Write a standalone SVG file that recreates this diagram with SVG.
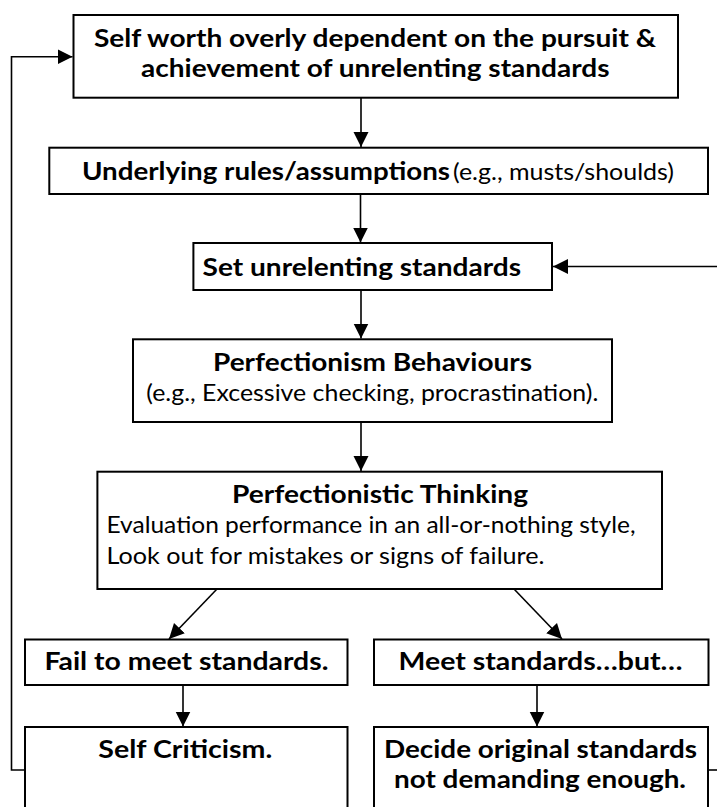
<svg xmlns="http://www.w3.org/2000/svg" width="717" height="807" viewBox="0 0 717 807">
<defs>
<style>
.box{fill:#fff;stroke:#000;stroke-width:2}
.t{font-family:"Lato","Open Sans","DejaVu Sans",sans-serif;font-size:24px;fill:#000}
.b{font-weight:bold}
.c{fill:none;stroke:#000;stroke-width:1.6}
</style>
<marker id="ah" markerUnits="userSpaceOnUse" markerWidth="16" markerHeight="16" viewBox="0 0 16 16" refX="15" refY="8" orient="auto">
<path d="M0,0.5 L15,8 L0,15.5 Z" fill="#000"/>
</marker>
</defs>
<rect width="717" height="807" fill="#fff"/>
<g id="connectors">
<line class="c" x1="361" y1="97.7" x2="361" y2="147" marker-end="url(#ah)"/>
<line class="c" x1="360.5" y1="194" x2="360.5" y2="242.5" marker-end="url(#ah)"/>
<line class="c" x1="361" y1="290" x2="361" y2="338.5" marker-end="url(#ah)"/>
<line class="c" x1="361" y1="422" x2="361" y2="471" marker-end="url(#ah)"/>
<line class="c" x1="217" y1="589" x2="169" y2="639" marker-end="url(#ah)"/>
<line class="c" x1="514" y1="589" x2="562" y2="639" marker-end="url(#ah)"/>
<line class="c" x1="183" y1="685" x2="183" y2="726.5" marker-end="url(#ah)"/>
<line class="c" x1="537" y1="685" x2="537" y2="726.5" marker-end="url(#ah)"/>
<line class="c" x1="717" y1="266.5" x2="553" y2="266.5" marker-end="url(#ah)"/>
<polyline class="c" points="25,770 11.5,770 11.5,56.7 72.5,56.7" marker-end="url(#ah)"/>
<line class="c" x1="708" y1="770" x2="717" y2="770"/>
</g>
<g id="n1">
<rect class="box" x="73.5" y="15" width="604.5" height="82.7"/>
<text class="t b" x="94" y="47" textLength="562" lengthAdjust="spacingAndGlyphs">Self worth overly dependent on the pursuit &amp;</text>
<text class="t b" x="141" y="77" textLength="468.5" lengthAdjust="spacingAndGlyphs">achievement of unrelenting standards</text>
</g>
<g id="n2">
<rect class="box" x="49.3" y="147.7" width="658.7" height="46.3"/>
<text class="t b" x="82" y="179.5" textLength="368" lengthAdjust="spacingAndGlyphs">Underlying rules/assumptions</text>
<text class="t" x="453" y="179.5" textLength="221" lengthAdjust="spacingAndGlyphs">(e.g., musts/shoulds)</text>
</g>
<g id="n3">
<rect class="box" x="193.4" y="243" width="358.6" height="47"/>
<text class="t b" x="202.6" y="275.5" textLength="318.5" lengthAdjust="spacingAndGlyphs">Set unrelenting standards</text>
</g>
<g id="n4">
<rect class="box" x="133" y="339.3" width="479" height="82.7"/>
<text class="t b" x="213" y="371" textLength="319" lengthAdjust="spacingAndGlyphs">Perfectionism Behaviours</text>
<text class="t" x="146.3" y="401" textLength="452" lengthAdjust="spacingAndGlyphs">(e.g., Excessive checking, procrastination).</text>
</g>
<g id="n5">
<rect class="box" x="97.4" y="471.7" width="564.6" height="117.3"/>
<text class="t b" x="232" y="502.5" textLength="296" lengthAdjust="spacingAndGlyphs">Perfectionistic Thinking</text>
<text class="t" x="106.5" y="533" textLength="529" lengthAdjust="spacingAndGlyphs">Evaluation performance in an all-or-nothing style,</text>
<text class="t" x="106.5" y="564.3" textLength="438" lengthAdjust="spacingAndGlyphs">Look out for mistakes or signs of failure.</text>
</g>
<g id="n6">
<rect class="box" x="25" y="639.5" width="322.5" height="45.5"/>
<text class="t b" x="44.4" y="670" textLength="284" lengthAdjust="spacingAndGlyphs">Fail to meet standards.</text>
</g>
<g id="n7">
<rect class="box" x="374" y="639.5" width="334.5" height="45.5"/>
<text class="t b" x="398.5" y="670" textLength="284" lengthAdjust="spacingAndGlyphs">Meet standards…but…</text>
</g>
<g id="n8">
<rect class="box" x="25" y="727" width="322.5" height="100"/>
<text class="t b" x="98.3" y="757.5" textLength="174" lengthAdjust="spacingAndGlyphs">Self Criticism.</text>
</g>
<g id="n9">
<rect class="box" x="374" y="727" width="334" height="100"/>
<text class="t b" x="384" y="757.5" textLength="313" lengthAdjust="spacingAndGlyphs">Decide original standards</text>
<text class="t b" x="394" y="788" textLength="292" lengthAdjust="spacingAndGlyphs">not demanding enough.</text>
</g>
</svg>
